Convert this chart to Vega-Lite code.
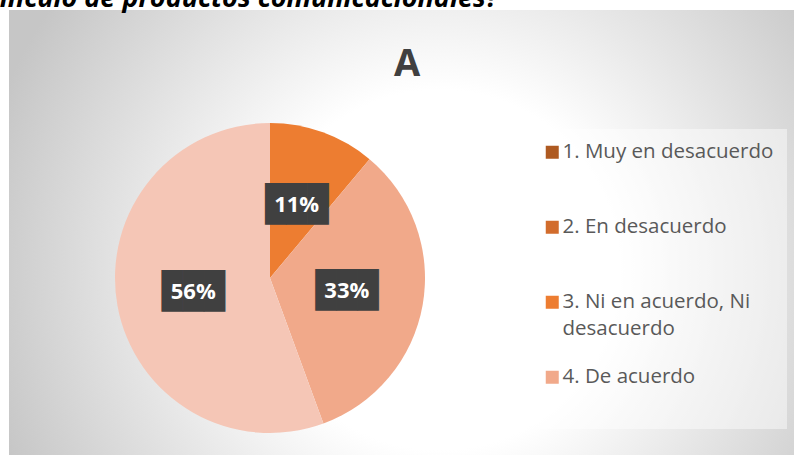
{
  "$schema": "https://vega.github.io/schema/vega-lite/v6.json",
  "padding": {"left": -14, "top": -15, "right": 0, "bottom": -91},
  "background": "white",
  "title": {
    "text": "vínculo de productos comunicacionales?",
    "anchor": "start",
    "dx": -23,
    "offset": -24,
    "baseline": "alphabetic",
    "font": "Open Sans",
    "fontSize": 27,
    "fontWeight": "bold",
    "fontStyle": "italic",
    "color": "#000000"
  },
  "data": {"values": [
    {"respuesta": "3. Ni en acuerdo, Ni desacuerdo", "porcentaje": 0.111},
    {"respuesta": "4. De acuerdo", "porcentaje": 0.333},
    {"respuesta": "5. Muy de acuerdo", "porcentaje": 0.556}
  ]},
  "spacing": 0,
  "hconcat": [
    {
      "width": 522,
      "height": 536,
      "view": {
        "stroke": null,
        "fill": {"gradient": "radial", "x1": 0.817, "y1": 0.485, "r1": 0.336, "x2": 0.817, "y2": 0.485, "r2": 0.877,
          "stops": [{"offset": 0, "color": "#ffffff"}, {"offset": 1, "color": "#c6c6c6"}]}
      },
      "title": {"text": "A", "offset": -104, "baseline": "alphabetic", "dx": 137, "font": "Open Sans", "fontSize": 38, "fontWeight": "bold", "color": "#404040"},
      "encoding": {
        "theta": {"field": "porcentaje", "type": "quantitative", "stack": true}
      },
      "layer": [
        {
          "mark": {"type": "arc", "outerRadius": 155},
          "encoding": {
            "color": {
              "field": "respuesta",
              "type": "nominal",
              "scale": {
                "domain": ["1. Muy en desacuerdo", "2. En desacuerdo", "3. Ni en acuerdo, Ni desacuerdo", "4. De acuerdo", "5. Muy de acuerdo"],
                "range": ["#AE5A21", "#D26C2C", "#ED7D31", "#F1A98A", "#F5C6B6"]
              },
              "legend": {
                "values": ["1. Muy en desacuerdo", "2. En desacuerdo", "3. Ni en acuerdo, Ni desacuerdo", "4. De acuerdo"],
                "orient": "none",
                "direction": "vertical",
                "legendX": 520,
                "legendY": 119,
                "title": " ",
                "titleOrient": "bottom",
                "titleFontSize": 14,
                "titlePadding": 14,
                "symbolType": "square",
                "symbolSize": 169,
                "symbolStrokeWidth": 0,
                "symbolOpacity": 1,
                "labelFont": "Open Sans",
                "labelFontSize": 20.5,
                "labelColor": "#595959",
                "labelOffset": 0,
                "labelLimit": 400,
                "padding": 13,
                "fillColor": "rgba(255,255,255,0.45)",
                "gridAlign": "all",
                "rowPadding": 27,
                "labelExpr": "datum.value === '3. Ni en acuerdo, Ni desacuerdo' ? ['3. Ni en acuerdo, Ni', 'desacuerdo'] : datum.label",
                "encode": {
                  "labels": {"update": {"lineHeight": {"value": 27}}}
                }
              }
            }
          }
        },
        {
          "mark": {"type": "text", "radius": 78, "font": "DejaVu Sans Mono", "fontSize": 35, "color": "#404040", "baseline": "middle"},
          "encoding": {
            "detail": {"field": "respuesta", "type": "nominal"},
            "text": {"value": "███"}
          }
        },
        {
          "mark": {"type": "text", "radius": 78, "font": "Open Sans", "fontSize": 22, "fontWeight": "bold", "color": "#ffffff", "baseline": "middle"},
          "encoding": {
            "detail": {"field": "respuesta", "type": "nominal"},
            "text": {"field": "porcentaje", "type": "quantitative", "format": ".0%"}
          }
        }
      ]
    },
    {
      "width": 263,
      "height": 536,
      "data": {"values": []},
      "view": {
        "stroke": null,
        "fill": {"gradient": "radial", "x1": 0.085, "y1": 0.485, "r1": 0.336, "x2": 0.085, "y2": 0.485, "r2": 0.877,
          "stops": [{"offset": 0, "color": "#ffffff"}, {"offset": 1, "color": "#c6c6c6"}]}
      },
      "mark": {"type": "text"}
    }
  ]
}
